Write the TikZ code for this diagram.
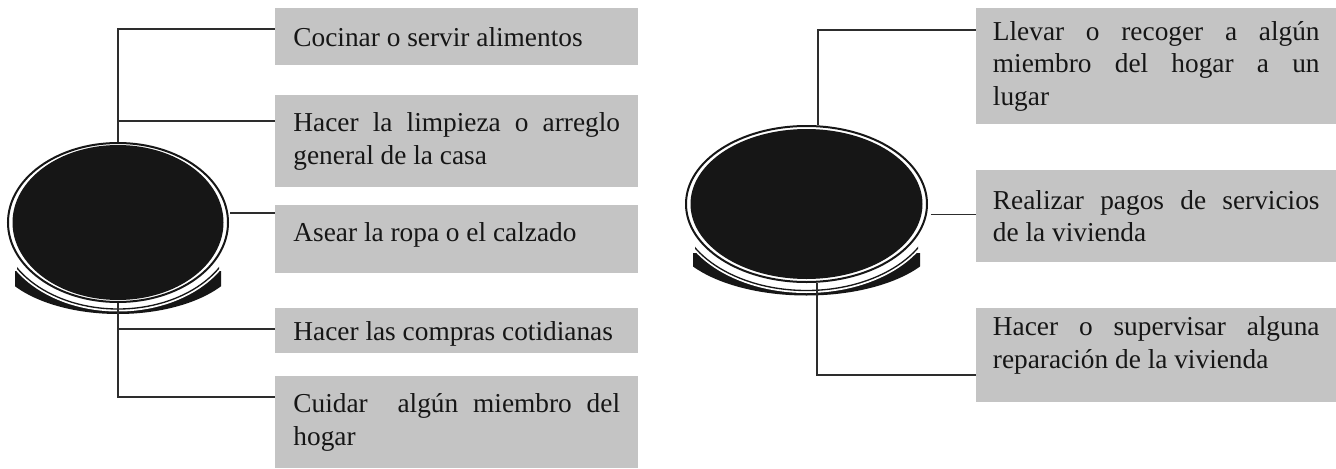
\documentclass[tikz,border=0pt]{standalone}
\usepackage{fontspec}
\setmainfont{Liberation Serif}
\usetikzlibrary{shapes.geometric,calc}
\definecolor{boxgray}{RGB}{196,196,196}
\definecolor{ink}{RGB}{22,22,22}
\definecolor{linec}{RGB}{45,45,45}
\hyphenpenalty=10000
\exhyphenpenalty=10000
\tolerance=10000
\hbadness=10000
\newcommand{\standbase}[3]{%
  \begin{scope}
    \clip ({#1-#3+8},{#2+49}) rectangle ({#1+#3-8},{#2+100});
    \fill[ink] (#1,{#2+27.5}) ellipse [x radius={#3+14}, y radius=64];
    \fill[white] (#1,{#2+1.5}) ellipse [x radius={#3+9.5}, y radius=87.5];
  \end{scope}
  \begin{scope}
    \clip ({#1-#3+10},{#2+30}) rectangle ({#1+#3-10},{#2+100});
    \draw[ink, line width=1pt] (#1,{#2+1.5}) ellipse [x radius={#3+7}, y radius=85];
  \end{scope}}
\newcommand{\boxfont}{\fontsize{20.5pt}{24.3pt}\selectfont}
\tikzset{
  boxbase/.style={fill=boxgray, anchor=north west, inner ysep=0pt,
    text width=245pt, align=justify, text=ink, font=\boxfont},
  lbox/.style={boxbase, inner xsep=13.625pt, minimum width=272.25pt},
  rbox/.style={boxbase, inner xsep=12.5pt, minimum width=270pt},
  conn/.style={draw=linec, line width=1pt},
  disc/.style={ellipse, draw=ink, line width=1.5pt, fill=white, inner sep=0pt}
}
\begin{document}
\begin{tikzpicture}[x=0.75pt,y=-0.75pt]
\useasboundingbox (0,0) rectangle (1336,468);
\fill[white] (0,0) rectangle (1336,468);

% left disc
\standbase{118}{222.5}{111}
\node[disc, minimum width=165pt, minimum height=119.25pt] (E1) at (118,222.5) {};
\fill[ink] (E1.center) ellipse [x radius=105.5, y radius=77.5];

% right disc
\standbase{806.5}{204}{121.5}
\node[disc, minimum width=180.75pt, minimum height=117pt] (E2) at (806.5,204) {};
\fill[ink] (E2.center) ellipse [x radius=116, y radius=75];

% left boxes
\node[lbox, minimum height=42.75pt] (B1) at (275,8) {\mbox{Cocinar o servir alimentos}};
\node[lbox, minimum height=69pt] (B2) at (275,95) {Hacer la limpieza o arreglo\linebreak general de la casa};
\node[lbox, minimum height=51pt] (B3) at (275,205) {\mbox{Asear la ropa o el calzado}\rule[-10.4pt]{0pt}{10.4pt}};
\node[lbox, minimum height=33.75pt] (B4) at (275,308) {\rule{0pt}{19pt}\mbox{Hacer las compras cotidianas}};
\node[lbox, minimum height=69pt] (B5) at (275,376) {Cuidar\ \ algún miembro del\linebreak hogar};

% right boxes
\node[rbox, minimum height=87pt] (B6) at (976,8) {Llevar o recoger a algún\linebreak miembro del hogar a un\linebreak lugar};
\node[rbox, minimum height=69pt] (B7) at (976,170) {Realizar pagos de servicios\linebreak de la vivienda};
\node[rbox, minimum height=70.5pt] (B8) at (976,308) {Hacer o supervisar alguna\linebreak reparación de la vivienda\rule[-19.3pt]{0pt}{19.3pt}};

% left connectors
\draw[conn] (E1.north) |- ($(B1.north west)+(0,21)$);
\path ($(B2.north west)+(0,26)$) coordinate (k2);
\draw[conn] (k2) -- (k2 -| E1.north);
\draw[conn] ([xshift=1.5pt]E1.5) -- (E1.5 -| B3.west);
\draw[conn] (E1.south) |- ($(B5.north west)+(0,21)$);
\path ($(B4.north west)+(0,21)$) coordinate (k4);
\draw[conn] (k4) -- (k4 -| E1.south);

% right connectors
\draw[conn] (E2.north) ++(11.5,0) |- ($(B6.north west)+(0,22)$);
\draw[conn] ([xshift=3pt]E2.-5) -- (E2.-5 -| B7.west);
\draw[conn] (E2.south) ++(10.5,0) |- ($(B8.north west)+(0,67)$);
\end{tikzpicture}
\end{document}
